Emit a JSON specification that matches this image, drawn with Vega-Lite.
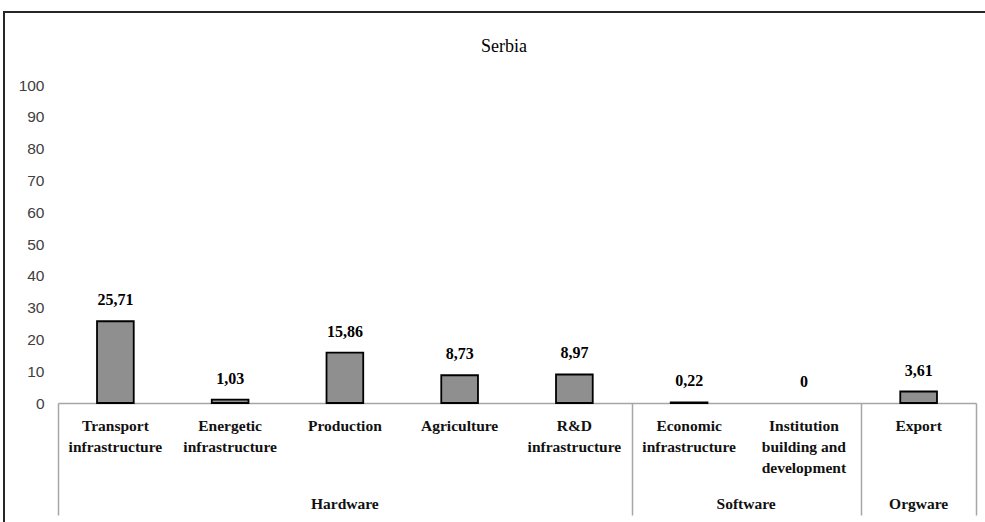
{
  "$schema": "https://vega.github.io/schema/vega-lite/v6.json",
  "width": 1000,
  "height": 530,
  "autosize": {"type": "none"},
  "padding": {"left": 4, "top": 12, "right": 0, "bottom": 0},
  "background": "white",
  "config": {
    "view": {"stroke": "#262626", "strokeWidth": 2},
    "locale": {"number": {"decimal": ",", "thousands": ".", "grouping": [3], "currency": ["", " €"]}},
    "axis": {"grid": false}
  },
  "title": {
    "text": "Serbia",
    "font": "Liberation Serif",
    "fontSize": 18,
    "fontWeight": "normal",
    "color": "#000000",
    "anchor": "middle",
    "baseline": "alphabetic",
    "offset": -58
  },
  "data": {
    "values": [
      {"category": "Transport infrastructure", "group": "Hardware", "value": 25.71},
      {"category": "Energetic infrastructure", "group": "Hardware", "value": 1.03},
      {"category": "Production", "group": "Hardware", "value": 15.86},
      {"category": "Agriculture", "group": "Hardware", "value": 8.73},
      {"category": "R&D infrastructure", "group": "Hardware", "value": 8.97},
      {"category": "Economic infrastructure", "group": "Software", "value": 0.22},
      {"category": "Institution building and development", "group": "Software", "value": 0},
      {"category": "Export", "group": "Orgware", "value": 3.61}
    ]
  },
  "resolve": {"axis": {"x": "independent"}},
  "layer": [
    {
      "mark": {"type": "bar", "width": {"band": 0.32}, "fill": "#8f8f8f"},
      "encoding": {
        "x": {
          "field": "category",
          "type": "nominal",
          "sort": null,
          "scale": {"range": [54, 972], "paddingInner": 0, "paddingOuter": 0},
          "axis": {
            "orient": "bottom",
            "offset": -139,
            "title": null,
            "domainColor": "#a6a6a6",
            "domainWidth": 1.5,
            "ticks": false,
            "labelAngle": 0,
            "labelFont": "Liberation Serif",
            "labelFontWeight": "bold",
            "labelFontSize": 15.5,
            "labelColor": "#111111",
            "labelBaseline": "top",
            "labelLineHeight": 21,
            "labelPadding": 15,
            "labelLimit": 0,
            "labelExpr": "datum.label == 'Institution building and development' ? ['Institution', 'building and', 'development'] : indexof(datum.label, ' ') > 0 ? split(datum.label, ' ') : datum.label"
          }
        },
        "y": {
          "field": "value",
          "type": "quantitative",
          "scale": {"domain": [0, 100], "range": [391, 73], "nice": false},
          "axis": {
            "orient": "left",
            "values": [0, 10, 20, 30, 40, 50, 60, 70, 80, 90, 100],
            "offset": -54,
            "title": null,
            "domain": false,
            "ticks": false,
            "grid": false,
            "labelPadding": 14,
            "labelFont": "Liberation Sans Narrow, Liberation Sans",
            "labelFontSize": 15.5,
            "labelColor": "#404040"
          }
        }
      }
    },
    {
      "mark": {"type": "bar", "width": {"band": 0.32}, "fillOpacity": 0, "stroke": "#000000", "strokeWidth": 1.8},
      "encoding": {
        "x": {
          "field": "category",
          "type": "nominal",
          "sort": null,
          "axis": {
            "orient": "bottom",
            "offset": -139,
            "title": null,
            "values": ["Transport infrastructure", "R&D infrastructure", "Institution building and development", "Export"],
            "tickBand": "extent",
            "ticks": true,
            "tickSize": 112,
            "tickWidth": 1.5,
            "tickColor": "#a6a6a6",
            "tickOpacity": {"condition": {"test": "datum.value == 'Transport infrastructure'", "value": 0}, "value": 1},
            "labels": false,
            "domain": false
          }
        },
        "y": {"field": "value", "type": "quantitative"},
        "strokeOpacity": {"condition": {"test": "datum.value > 0", "value": 1}, "value": 0}
      }
    },
    {
      "mark": {"type": "text", "font": "Liberation Serif", "fontWeight": "bold", "fontSize": 16, "baseline": "middle", "dy": -21, "color": "#000000"},
      "encoding": {
        "x": {
          "field": "category",
          "type": "nominal",
          "sort": null,
          "axis": {
            "orient": "bottom",
            "offset": -139,
            "title": null,
            "values": ["Production", "Economic infrastructure", "Export"],
            "labelExpr": "datum.value == 'Production' ? 'Hardware' : datum.value == 'Export' ? 'Orgware' : 'Software'",
            "labelOffset": {"condition": {"test": "datum.value == 'Economic infrastructure'", "value": 57}, "value": 0},
            "labelAngle": 0,
            "ticks": false,
            "domain": false,
            "labelFont": "Liberation Serif",
            "labelFontWeight": "bold",
            "labelFontSize": 15.5,
            "labelColor": "#111111",
            "labelBaseline": "top",
            "labelPadding": 93
          }
        },
        "y": {"field": "value", "type": "quantitative"},
        "text": {"field": "value", "type": "quantitative", "format": ".2~f"}
      }
    }
  ]
}
